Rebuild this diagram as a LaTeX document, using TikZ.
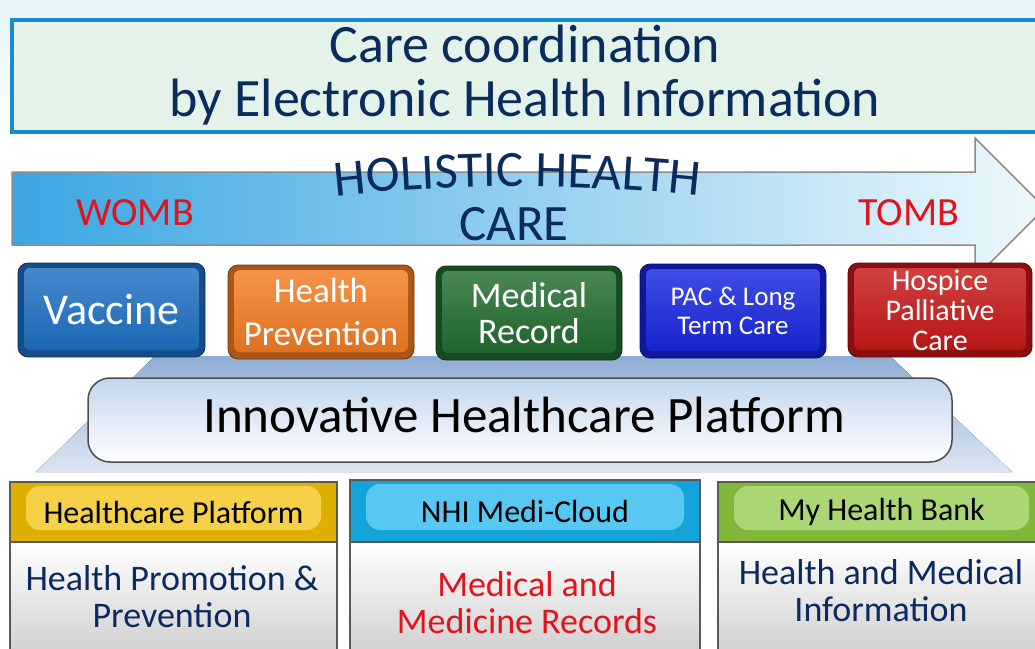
\documentclass[tikz,border=0pt]{standalone}
\usepackage{fontspec}
\setmainfont{Carlito}
\usetikzlibrary{decorations.text}
\definecolor{navy}{HTML}{0B2A5E}
\definecolor{tred}{HTML}{E0141C}
\definecolor{titleB}{HTML}{1A8CCC}
\definecolor{titleF}{HTML}{E4F3E9}
\definecolor{vacB}{HTML}{1B6FC4}
\definecolor{orgB}{HTML}{F47B20}
\definecolor{grnB}{HTML}{1F6B2C}
\definecolor{pacB}{HTML}{1523E0}
\definecolor{redB}{HTML}{C81414}
\definecolor{yelH}{HTML}{F2BE00}
\definecolor{cyaH}{HTML}{16B2EC}
\definecolor{grnH}{HTML}{8CC63E}
\definecolor{arrL}{HTML}{3AA6E2}
\definecolor{arrR}{HTML}{EEF9FC}
\definecolor{platT}{HTML}{C3D6EC}
\definecolor{trapT}{HTML}{8FAED3}
\definecolor{trapB}{HTML}{DCE6F2}
\definecolor{skyT}{HTML}{E6F5F8}
\tikzset{
  colbox/.style={rounded corners=10pt, minimum width=186pt, minimum height=94pt,
    inner sep=0pt, text=white, align=center, fill=#1!70!black, draw=#1!45!black,
    line width=0.8pt,
    path picture={\fill[rounded corners=6pt, top color=#1!80!white, bottom color=#1!90!black]
      ([shift={(6pt,-5pt)}]path picture bounding box.north west) rectangle
      ([shift={(-6pt,7pt)}]path picture bounding box.south east);}},
  hdrbox/.style={minimum width=327pt, minimum height=60pt, inner sep=0pt,
    fill=#1!92!black, draw=black!65, line width=1.5pt, font=\fontsize{32}{34}\selectfont,
    path picture={\fill[rounded corners=14pt, #1!72!white]
      ([shift={(16pt,-4pt)}]path picture bounding box.north west) rectangle
      ([shift={(-16pt,12pt)}]path picture bounding box.south east);}},
  bodybox/.style={minimum width=327pt, minimum height=108pt, inner sep=0pt,
    top color=white, bottom color=black!18, draw=black!65, line width=1.5pt},
  bodytxt/.style={align=center, font=\fontsize{36}{37}\selectfont},
}
\begin{document}
\begin{tikzpicture}[x=1pt,y=-1pt]
\useasboundingbox (0,0) rectangle (1035,648);
\fill[white] (0,0) rectangle (1035,648);
\fill[top color=skyT, bottom color=white] (0,0) rectangle (1035,150);

% title
\node[draw=titleB, line width=4pt, fill=titleF, minimum width=1040pt,
  minimum height=112pt, anchor=north west, inner sep=0pt] (title) at (10,18) {};
\node[anchor=base, text=navy, font=\fontsize{54}{54}\selectfont] (t1) at (525,62) {Care coordination};
\node[anchor=base, text=navy, font=\fontsize{54}{54}\selectfont] (t2) at (525,116) {by Electronic Health Information};

% big arrow
\path[left color=arrL, right color=arrR, draw=black!45, line width=1.5pt]
  (12,172) -- (975,172) -- (975,138) -- (1045,208) -- (975,278) -- (975,245) -- (12,245) -- cycle;
\node[anchor=base, text=tred, font=\fontsize{40}{40}\selectfont] (womb) at (135,225) {WOMB};
\node[anchor=base, text=tred, font=\fontsize{40}{40}\selectfont] (tomb) at (909,225) {TOMB};
\coordinate (h1) at (328,197);
\coordinate (h2) at (450,183);
\coordinate (h3) at (585,183);
\coordinate (h4) at (707,197);
\path[decorate, decoration={text along path, text align=center,
  text={|\fontsize{51}{51}\selectfont\color{navy}|HOLISTIC HEALTH}}]
  (h1) .. controls (h2) and (h3) .. (h4);
\node[anchor=base, text=navy, font=\fontsize{51}{51}\selectfont] (care) at (514,240) {CARE};

% platform trapezoid and bar
\fill[top color=trapT, bottom color=trapB] (155,356) -- (890,356) -- (1012,472) -- (36,472) -- cycle;
\node[rounded corners=22pt, minimum width=864pt, minimum height=84pt, inner sep=0pt,
  top color=platT, bottom color=white, draw=black!70, line width=1.5pt] (plat) at (520,420) {};
\node[anchor=base, font=\fontsize{51}{51}\selectfont] (platt) at (524,432) {Innovative Healthcare Platform};

% coloured boxes
\node[colbox=vacB, minimum width=187pt, font=\fontsize{44}{48}\selectfont] (vac) at (111.5,310) {Vaccine};
\node[colbox=orgB, font=\fontsize{35}{43}\selectfont] (hp) at (321,312) {Health\\Prevention};
\node[colbox=grnB, font=\fontsize{36}{36}\selectfont] (mr) at (529,313) {Medical\\Record};
\node[colbox=pacB, font=\fontsize{27}{29}\selectfont] (pac) at (733,311) {PAC \& Long\\Term Care};
\node[colbox=redB, minimum width=184pt, font=\fontsize{30}{30}\selectfont] (hos) at (940,310) {Hospice\\Palliative\\Care};

% bottom columns
\node[hdrbox=yelH] (h1b) at (173.5,512) {Healthcare Platform};
\node[bodybox] (b1) at (173.5,596) {};
\node[bodytxt, text=navy] (b1t) at (172,597) {Health Promotion \&\\Prevention};

\node[hdrbox=cyaH, minimum width=350pt, minimum height=62pt] (h2b) at (525,511) {NHI Medi-Cloud};
\node[bodybox, minimum width=350pt] (b2) at (525,596) {};
\node[bodytxt, text=tred] (b2t) at (527,603) {Medical and\\Medicine Records};

\node[hdrbox=grnH] (h3b) at (881.5,512) {My Health Bank};
\node[bodybox] (b3) at (881.5,596) {};
\node[bodytxt, text=navy] (b3t) at (881,591) {Health and Medical\\Information};
\end{tikzpicture}
\end{document}
